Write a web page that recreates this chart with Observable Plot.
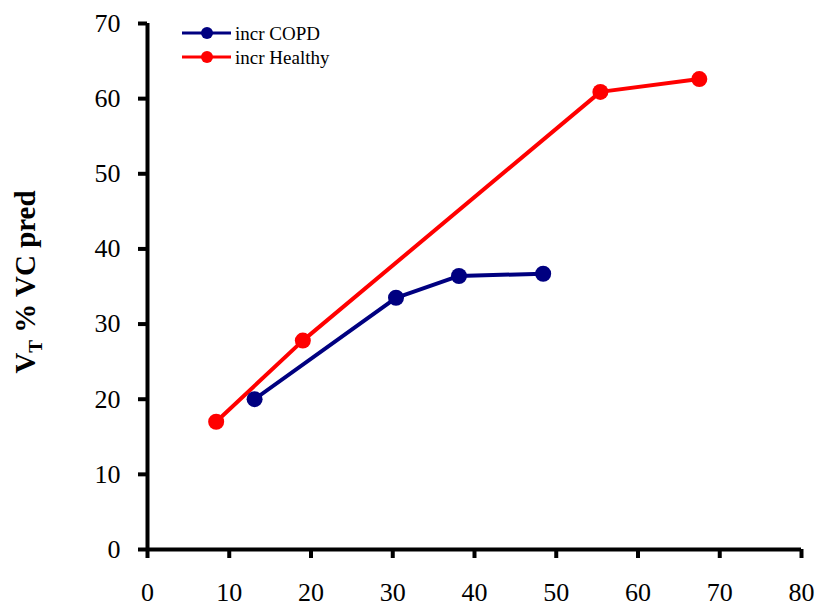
<!DOCTYPE html>
<html>
<head>
<meta charset="utf-8">
<script src="https://cdn.jsdelivr.net/npm/d3@7"></script>
<script src="https://cdn.jsdelivr.net/npm/@observablehq/plot@0.6"></script>
<style>
  body { margin: 0; background: #fff; }
</style>
</head>
<body>
<div id="chart"></div>
<script>
// Incremental exercise: tidal volume (% of predicted VC) per step
const seriesNames = ["incr COPD", "incr Healthy"];
const seriesColors = ["#000080", "#ff0000"];

const copdX = [13.1, 30.4, 38.1, 48.4];
const copdY = [20.0, 33.5, 36.4, 36.7];

const healthyX = [8.4, 19.0, 55.4, 67.5];
const healthyY = [17.0, 27.8, 60.9, 62.6];

const xTicks = [0, 10, 20, 30, 40, 50, 60, 70, 80];
const yTicks = [0, 10, 20, 30, 40, 50, 60, 70];

const seriesX = [copdX, healthyX];
const seriesY = [copdY, healthyY];
const rows = seriesNames.flatMap((name, s) =>
  seriesX[s].map((x, i) => ({ series: name, x, y: seriesY[s][i] }))
);

const serif = "'Liberation Serif', 'Times New Roman', serif";

// outward tick length, expressed in data units of the other axis
const xTickLen = 1.2;   // below y = 0
const yTickLen = 1.1;   // left of x = 0

const svg = Plot.plot({
  width: 819,
  height: 606,
  marginLeft: 147,
  marginRight: 18,
  marginTop: 23,
  marginBottom: 57,
  style: { fontFamily: serif, fontSize: "26px", color: "#000", background: "#fff" },
  x: { domain: [0, 80] },
  y: { domain: [0, 70] },
  color: { domain: seriesNames, range: seriesColors },
  marks: [
    Plot.axisX({ ticks: xTicks, tickSize: 0, tickPadding: 33, label: null, tickFormat: d => d }),
    Plot.axisY({ ticks: yTicks, tickSize: 0, tickPadding: 27, label: null, tickFormat: d => d }),
    Plot.ruleX(xTicks, { x: d => d, y1: 0, y2: -xTickLen, stroke: "#000", strokeWidth: 4 }),
    Plot.ruleY(yTicks, { y: d => d, x1: 0, x2: -yTickLen, stroke: "#000", strokeWidth: 4 }),
    Plot.ruleY([0], { stroke: "#000", strokeWidth: 4 }),
    Plot.ruleX([0], { stroke: "#000", strokeWidth: 4 }),
    Plot.line(rows, { x: "x", y: "y", z: "series", stroke: "series", strokeWidth: 4 }),
    Plot.dot(rows, { x: "x", y: "y", fill: "series", r: 8 })
  ]
});

document.getElementById("chart").appendChild(svg);

const root = d3.select(svg);

// y-axis title with subscript T
const ylab = root.append("text")
  .attr("transform", "translate(35,282) rotate(-90)")
  .attr("text-anchor", "middle")
  .attr("font-family", serif)
  .attr("font-weight", "bold")
  .attr("font-size", 29)
  .attr("fill", "#000");
ylab.append("tspan").text("V");
ylab.append("tspan").attr("dy", 7).attr("font-size", 19).text("T");
ylab.append("tspan").attr("dy", -7).text(" % VC pred");

// legend
const legend = root.append("g").attr("transform", "translate(182,33)");
seriesNames.forEach((name, i) => {
  const g = legend.append("g").attr("transform", `translate(0,${i * 24})`);
  g.append("line").attr("x1", 0).attr("x2", 49).attr("y1", 0).attr("y2", 0)
    .attr("stroke", seriesColors[i]).attr("stroke-width", 3);
  g.append("circle").attr("cx", 25).attr("cy", 0).attr("r", 6).attr("fill", seriesColors[i]);
  g.append("text").attr("x", 53).attr("y", 0).attr("dy", "0.35em")
    .attr("text-anchor", "start")
    .attr("font-family", serif).attr("font-size", 19).attr("fill", "#000").text(name);
});
</script>
</body>
</html>
